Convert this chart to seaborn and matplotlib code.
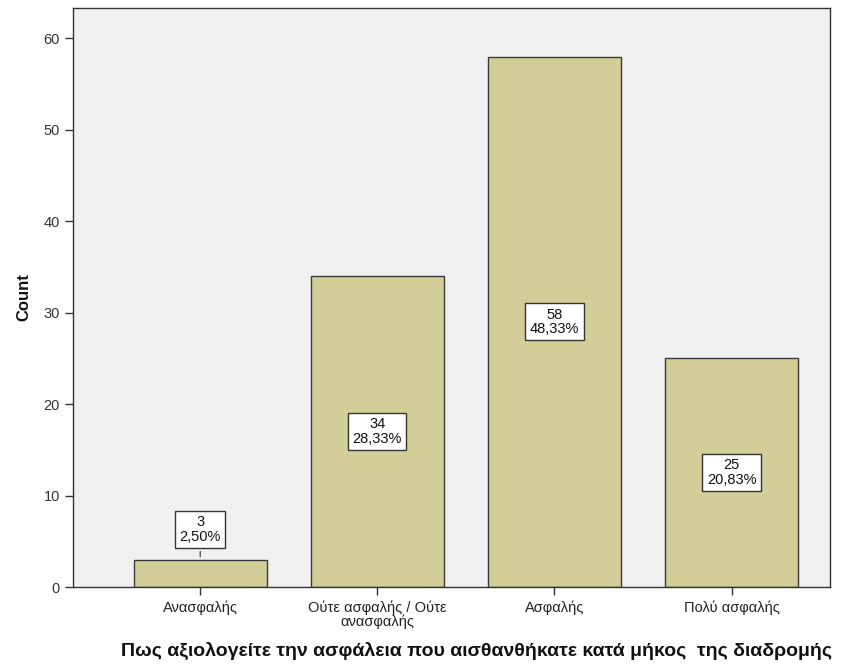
import matplotlib
matplotlib.use("Agg")
import matplotlib.pyplot as plt
import seaborn as sns
import pandas as pd

categories = ["Ανασφαλής", "Ούτε ασφαλής / Ούτε\nανασφαλής", "Ασφαλής", "Πολύ ασφαλής"]
counts = [3, 34, 58, 25]
percent_labels = ["2,50%", "28,33%", "48,33%", "20,83%"]

df = pd.DataFrame({"category": categories, "count": counts})

sns.set_style("ticks")
plt.rcParams["font.family"] = ["Liberation Sans", "DejaVu Sans"]

fig = plt.figure(figsize=(8.52, 6.67), dpi=100)
ax = fig.add_axes([0.0857, 0.1199, 0.889, 0.868])
ax.set_facecolor("#F0F0F0")

sns.barplot(data=df, x="category", y="count", color="#D3CE97", saturation=1,
            width=0.75, edgecolor="#3A3A3A", linewidth=1.0, ax=ax)

ax.set_xlim(-0.718, 3.558)
ax.set_ylim(0, 63.3)
ax.set_yticks(range(0, 61, 10))

box = dict(boxstyle="square,pad=0.3", facecolor="white", edgecolor="#333333", linewidth=1.0)
for i, (c, p) in enumerate(zip(counts, percent_labels)):
    text = f"{c}\n{p}"
    if c < 6:
        ax.annotate(text, xy=(i, c), xytext=(i, c + 3.3), ha="center", va="center",
                    fontsize=10.5, linespacing=1.05, bbox=box, color="#111111",
                    arrowprops=dict(arrowstyle="-", color="#333333", lw=0.8))
    else:
        ax.text(i, c / 2, text, ha="center", va="center", fontsize=10.5,
                linespacing=1.05, bbox=box, color="#111111")

for side in ["top", "right"]:
    ax.spines[side].set_visible(True)
for s in ax.spines.values():
    s.set_color("#333333")
    s.set_linewidth(1.0)

ax.tick_params(axis="both", colors="#333333", labelsize=10.5, length=6, width=1.0)
ax.tick_params(axis="x", labelcolor="#222222", pad=4)
for lbl in ax.get_xticklabels():
    lbl.set_linespacing(0.9)

ax.set_ylabel("Count", fontsize=12, fontweight="bold", labelpad=9, color="#111111")
ax.set_xlabel("Πως αξιολογείτε την ασφάλεια που αισθανθήκατε κατά μήκος  της διαδρομής",
              fontsize=14, fontweight="bold", color="#111111")
ax.xaxis.set_label_coords(0.533, -0.094)

fig.savefig("out.png", dpi=100)
